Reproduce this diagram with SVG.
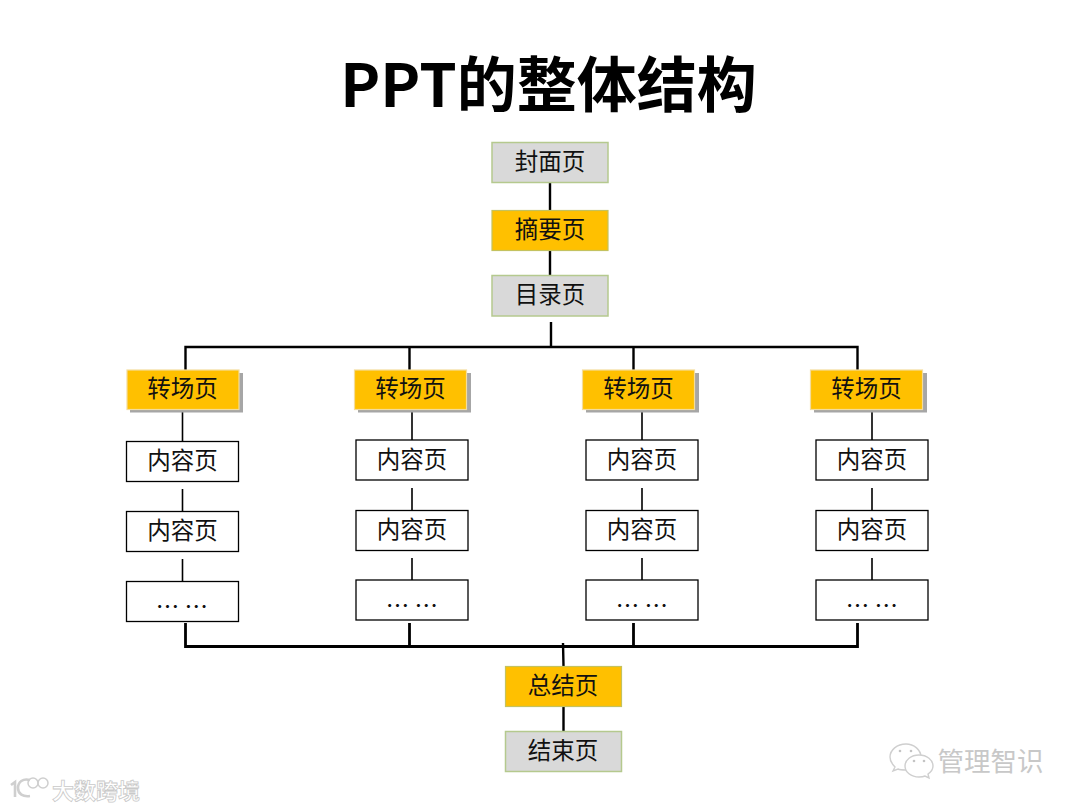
<svg xmlns="http://www.w3.org/2000/svg" width="1080" height="810" viewBox="0 0 1080 810">
<style>
text{font-family:"Noto Sans CJK SC","Noto Sans",sans-serif;text-anchor:middle}
.t{font-size:23.500px;fill:#111}
.title{font-size:60px;font-weight:700;fill:#000}
.gray{fill:#d9d9d9;stroke:#b5c98e;stroke-width:1.5}
.gold{fill:#ffc000;stroke:#c4c25f;stroke-width:1.2}
.tr{fill:#ffc000;stroke:#f3dc9c;stroke-width:1.2}
.sh{fill:#a6a6a6;stroke:none}
.w{fill:#fff;stroke:#000;stroke-width:1.3}
.c{stroke:#000;fill:none}
.c2{stroke-width:2.400}
.c3{stroke-width:2.800}
.c1{stroke-width:1.600}
.wm{fill:#c8c8c8;font-size:26.500px}
.ic{fill:#fff;stroke:#cfcfcf;stroke-width:1.4}
.d{fill:#c4c4c4;stroke:none}
.wml{fill:#fff;stroke:#c9c9c9;stroke-width:.8;font-size:22px;font-weight:700}
.ln{fill:none;stroke:#cfcfcf;stroke-width:2.600}
.ln2{fill:none;stroke:#cfcfcf;stroke-width:1.500}
</style>
<rect width="1080" height="810" fill="#fff"/>
<text id="title" class="title" x="548.500" y="107">PPT的整体结构</text>
<g id="connectors" class="c">
<path class="c2" d="M550 183V210M550 251V275M551 322V347M185.500 370V347H857.500V370M409.500 347V370M633.500 347V370"/>
<path class="c3" d="M185.500 623V646.500H857.500V623M409.500 623V646.500M633.500 623V646.500"/>
<path class="c2" d="M563 643L563.500 666M563.500 706V731"/>
<path class="c1" d="M182.500 410V441M182.500 489V511M182.500 559V581M412 410V440M412 488V510M412 558V580M642 410V440M642 488V510M642 558V580M872 410V440M872 488V510M872 558V580"/>
</g>
<g id="n-cover"><rect class="gray" x="492" y="142.500" width="116" height="40"/><text class="t" x="550" y="170">封面页</text></g>
<g id="n-abstract"><rect class="gold" x="492" y="210.500" width="116" height="40"/><text class="t" x="550" y="238">摘要页</text></g>
<g id="n-toc"><rect class="gray" x="492" y="275.500" width="116" height="40.500"/><text class="t" x="550" y="303">目录页</text></g>
<g id="n-tr1"><rect class="sh" x="130" y="373" width="113" height="39.500"/><rect class="tr" x="127" y="370" width="112" height="39.500"/><text class="t" x="182.500" y="397">转场页</text></g>
<g id="n-tr2"><rect class="sh" x="358" y="373" width="113" height="39.500"/><rect class="tr" x="354.500" y="370" width="112" height="39.500"/><text class="t" x="410.500" y="397">转场页</text></g>
<g id="n-tr3"><rect class="sh" x="586" y="373" width="113" height="39.500"/><rect class="tr" x="582.500" y="370" width="112" height="39.500"/><text class="t" x="638.500" y="397">转场页</text></g>
<g id="n-tr4"><rect class="sh" x="814" y="373" width="113" height="39.500"/><rect class="tr" x="810.500" y="370" width="112" height="39.500"/><text class="t" x="866.500" y="397">转场页</text></g>
<g id="n-c11"><rect class="w" x="126.500" y="441.500" width="112" height="40"/><text class="t" x="182.500" y="469">内容页</text></g>
<g id="n-c12"><rect class="w" x="126.500" y="511.500" width="112" height="40"/><text class="t" x="182.500" y="539">内容页</text></g>
<g id="n-c13"><rect class="w" x="126.500" y="581.500" width="112" height="40"/><text class="t" x="182" y="615">… …</text></g>
<g id="n-c21"><rect class="w" x="356" y="440" width="112" height="40"/><text class="t" x="412" y="468">内容页</text></g>
<g id="n-c22"><rect class="w" x="356" y="510.500" width="112" height="40"/><text class="t" x="412" y="538">内容页</text></g>
<g id="n-c23"><rect class="w" x="356" y="580" width="112" height="40"/><text class="t" x="412" y="614">… …</text></g>
<g id="n-c31"><rect class="w" x="586" y="440" width="112" height="40"/><text class="t" x="642" y="468">内容页</text></g>
<g id="n-c32"><rect class="w" x="586" y="510.500" width="112" height="40"/><text class="t" x="642" y="538">内容页</text></g>
<g id="n-c33"><rect class="w" x="586" y="580" width="112" height="40"/><text class="t" x="642" y="614">… …</text></g>
<g id="n-c41"><rect class="w" x="816" y="440" width="112" height="40"/><text class="t" x="872" y="468">内容页</text></g>
<g id="n-c42"><rect class="w" x="816" y="510.500" width="112" height="40"/><text class="t" x="872" y="538">内容页</text></g>
<g id="n-c43"><rect class="w" x="816" y="580" width="112" height="40"/><text class="t" x="872" y="614">… …</text></g>
<g id="n-summary"><rect class="gold" x="505.500" y="666.500" width="116" height="40"/><text class="t" x="563" y="694">总结页</text></g>
<g id="n-end"><rect class="gray" x="505.500" y="731.500" width="116" height="40"/><text class="t" x="563" y="759">结束页</text></g>
<g id="wm-right">
<path class="ic" d="M906 744c-9 0-16 6-16 13 0 4 2 7 5 10l-2 4 5-2c2 1 5 1 8 1 8 0 15-6 15-13s-7-13-15-13z"/>
<path class="ic" d="M919 755c-8 0-14 5-14 11s6 11 14 11c2 0 4 0 6-1l4 2-1-4c3-2 5-5 5-8 0-6-6-11-14-11z"/>
<circle class="d" cx="900" cy="751" r="1.300"/><circle class="d" cx="911" cy="751" r="1.300"/><circle class="d" cx="914" cy="761" r="1.300"/><circle class="d" cx="924" cy="761" r="1.300"/>
<text class="wm" x="990.500" y="771">管理智识</text>
</g>
<g id="wm-left">
<path class="ln" d="M11 785l4-3v15M30 780c-7-2-12 2-12 8s5 9 12 8"/>
<circle class="ln2" cx="33" cy="783" r="5"/><circle class="ln2" cx="43" cy="783" r="5"/>
<text class="wml" x="96" y="799">大数跨境</text>
</g>
</svg>
